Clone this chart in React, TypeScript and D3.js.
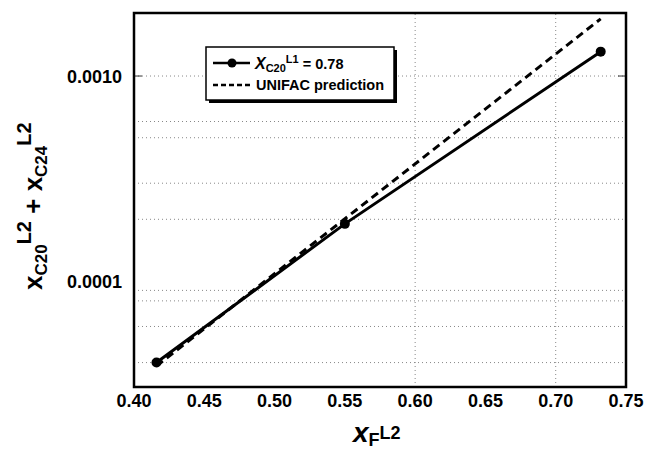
import React, { useRef, useEffect } from 'react';
import * as d3 from 'd3';

// measured points (x_C20^L1 = 0.78)
const xF = [0.416, 0.55, 0.732];
const ySum = [4.0e-5, 1.9e-4, 1.315e-3];

// UNIFAC prediction line
const unifacX = [0.416, 0.732];
const unifacY = [3.85e-5, 1.9e-3];

const xTicks = [0.40, 0.45, 0.50, 0.55, 0.60, 0.65, 0.70, 0.75];
const xGrid = [0.6, 0.7];
const yTicks = [1e-3, 1e-4];
const yTickLabels = ['0.0010', '0.0001'];
const yGrid = [1e-3, 6e-4, 5e-4, 3e-4, 2e-4, 9e-5, 8e-5, 6e-5, 4e-5];

const W = 647;
const H = 452;
const FONT = '"Liberation Sans", Arial, Helvetica, sans-serif';

const App = () => {
  const ref = useRef<SVGSVGElement>(null);

  useEffect(() => {
    const svg = d3.select(ref.current);
    svg.selectAll('*').remove();
    const margin = { top: 13, right: 21, bottom: 65, left: 134 };

    const x = d3.scaleLinear().domain([0.4, 0.75]).range([margin.left, W - margin.right]);
    const y = d3.scaleLog().domain([3.04e-5, 2.03e-3]).range([H - margin.bottom, margin.top]);

    const x0 = margin.left, x1 = W - margin.right;
    const y0 = H - margin.bottom, y1 = margin.top;

    svg.append('rect').attr('width', W).attr('height', H).attr('fill', '#fff');

    // grid
    svg.append('g').selectAll('line').data(yGrid).join('line')
      .attr('x1', x0).attr('x2', x1)
      .attr('y1', d => y(d)).attr('y2', d => y(d))
      .attr('stroke', '#888').attr('stroke-width', 1).attr('stroke-dasharray', '1,3');
    svg.append('g').selectAll('line').data(xGrid).join('line')
      .attr('x1', d => x(d)).attr('x2', d => x(d))
      .attr('y1', y0).attr('y2', y1)
      .attr('stroke', '#888').attr('stroke-width', 1).attr('stroke-dasharray', '1,3');

    // tick marks at 0.0010
    svg.append('line').attr('x1', x0).attr('x2', x0 + 8).attr('y1', y(1e-3)).attr('y2', y(1e-3))
      .attr('stroke', '#333').attr('stroke-width', 1);
    svg.append('line').attr('x1', x1 - 8).attr('x2', x1).attr('y1', y(1e-3)).attr('y2', y(1e-3))
      .attr('stroke', '#333').attr('stroke-width', 1);

    // unifac dashed line
    const unifac = unifacX.map((v, i) => [v, unifacY[i]] as [number, number]);
    svg.append('path')
      .datum(unifac)
      .attr('d', d3.line<[number, number]>().x(d => x(d[0])).y(d => y(d[1])))
      .attr('fill', 'none').attr('stroke', '#000').attr('stroke-width', 3)
      .attr('stroke-dasharray', '8,5');

    // measured solid line
    const pts = xF.map((v, i) => [v, ySum[i]] as [number, number]);
    svg.append('path')
      .datum(pts)
      .attr('d', d3.line<[number, number]>().x(d => x(d[0])).y(d => y(d[1])))
      .attr('fill', 'none').attr('stroke', '#000').attr('stroke-width', 3);
    svg.append('g').selectAll('circle').data(pts).join('circle')
      .attr('cx', d => x(d[0])).attr('cy', d => y(d[1])).attr('r', 5).attr('fill', '#000');

    // frame
    svg.append('rect').attr('x', x0).attr('y', y1).attr('width', x1 - x0).attr('height', y0 - y1)
      .attr('fill', 'none').attr('stroke', '#000').attr('stroke-width', 2.5);

    // tick labels
    svg.append('g').selectAll('text').data(xTicks).join('text')
      .attr('x', d => x(d)).attr('y', 407)
      .attr('text-anchor', 'middle')
      .style('font', `bold 18px ${FONT}`)
      .text(d => d.toFixed(2));
    svg.append('g').selectAll('text').data(yTicks).join('text')
      .attr('x', 122).attr('y', d => y(d) + 6.5)
      .attr('text-anchor', 'end')
      .style('font', `bold 18px ${FONT}`)
      .text((d, i) => yTickLabels[i]);

    // x axis title
    const xt = svg.append('text').attr('x', 353).attr('y', 442)
      .style('font-family', FONT).style('font-weight', 'bold');
    xt.append('tspan').style('font-size', '28px').style('font-style', 'italic').text('x');
    xt.append('tspan').style('font-size', '18px').attr('dy', 4).text('F');
    xt.append('tspan').style('font-size', '18px').attr('dy', -7).text('L2');

    // y axis title
    const yt = svg.append('text')
      .attr('transform', 'translate(42,290) rotate(-90)')
      .style('font-family', FONT).style('font-weight', 'bold');
    yt.append('tspan').style('font-size', '26px').text('x');
    yt.append('tspan').style('font-size', '17px').attr('dy', 5).text('C20');
    yt.append('tspan').style('font-size', '20px').attr('dy', -16).text('L2');
    yt.append('tspan').style('font-size', '26px').attr('dy', 11).text(' + x');
    yt.append('tspan').style('font-size', '17px').attr('dy', 5).text('C24');
    yt.append('tspan').style('font-size', '20px').attr('dy', -16).text('L2');

    // legend
    const lg = svg.append('g');
    lg.append('rect').attr('x', 209).attr('y', 50).attr('width', 188).attr('height', 53).attr('fill', '#000');
    lg.append('rect').attr('x', 206).attr('y', 47).attr('width', 188).attr('height', 53)
      .attr('fill', '#fff').attr('stroke', '#000').attr('stroke-width', 1.5);
    lg.append('line').attr('x1', 213).attr('x2', 250).attr('y1', 63).attr('y2', 63)
      .attr('stroke', '#000').attr('stroke-width', 2.5);
    lg.append('circle').attr('cx', 232).attr('cy', 63).attr('r', 4.5).attr('fill', '#000');
    lg.append('line').attr('x1', 213).attr('x2', 252).attr('y1', 85).attr('y2', 85)
      .attr('stroke', '#000').attr('stroke-width', 2.5).attr('stroke-dasharray', '5,3');
    const t1 = lg.append('text').attr('x', 255).attr('y', 69)
      .style('font-family', FONT).style('font-weight', 'bold');
    t1.append('tspan').style('font-size', '16px').style('font-style', 'italic').text('X');
    t1.append('tspan').style('font-size', '11px').attr('dy', 3).text('C20');
    t1.append('tspan').style('font-size', '11px').attr('dy', -9).text('L1');
    t1.append('tspan').style('font-size', '14.5px').attr('dy', 6).text(' = 0.78');
    lg.append('text').attr('x', 256).attr('y', 90)
      .style('font', `bold 14.5px ${FONT}`)
      .text('UNIFAC prediction');
  }, []);

  return (
    <svg ref={ref} width={W} height={H}
      style={{ position: 'absolute', left: 0, top: 0, display: 'block' }} />
  );
};

export default App;
